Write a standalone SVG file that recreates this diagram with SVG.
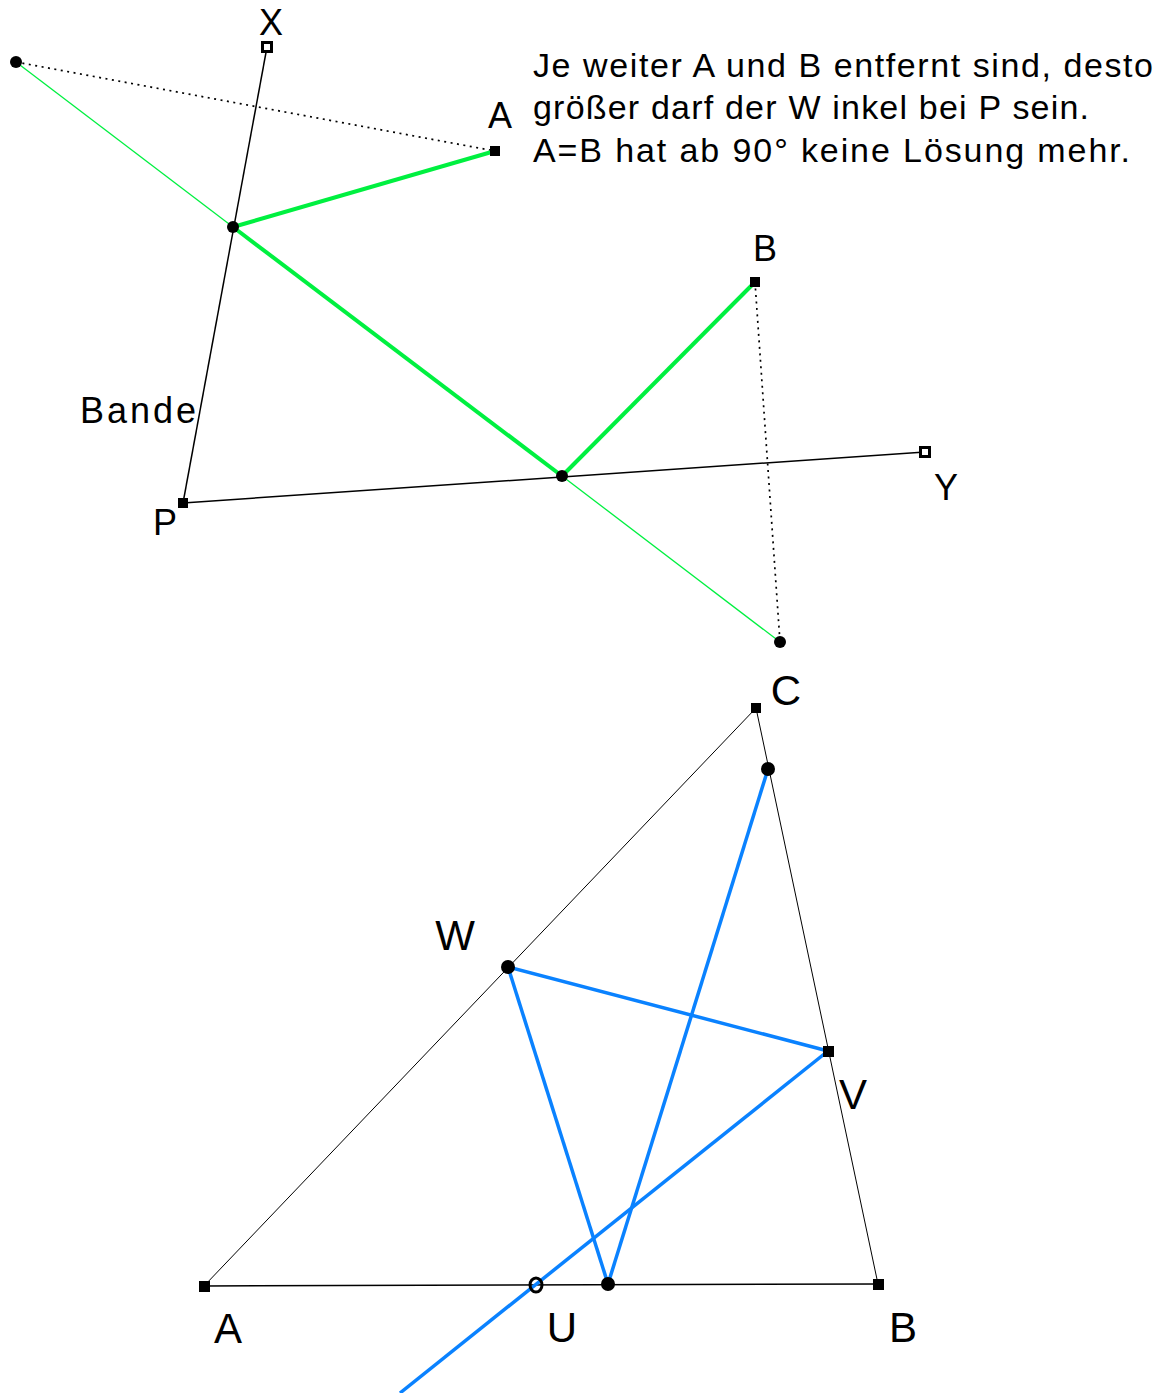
<svg xmlns="http://www.w3.org/2000/svg" width="1167" height="1393" viewBox="0 0 1167 1393">
<style>
text{font-family:"Liberation Sans",Arial,sans-serif;fill:#000}
.lbl{font-size:36px;text-anchor:middle}
.lbl2{font-size:42px;text-anchor:middle}
.note{font-family:"Liberation Sans Narrow","Liberation Sans",Arial,sans-serif;font-size:34px}
.blk{stroke:#000;stroke-width:1.5;fill:none}
.thin{stroke:#000;stroke-width:1;fill:none}
.dot{stroke:#000;stroke-width:1.7;fill:none;stroke-dasharray:2 4.5}
.gt{stroke:#00f040;stroke-width:1.3;fill:none}
.gk{stroke:#00f040;stroke-width:4;fill:none}
.bl{stroke:#0a82ff;stroke-width:3.5;fill:none}
.sq{fill:#000}
.hsq{fill:#fff;stroke:#000;stroke-width:3}
.pt{fill:#000}
</style>
<rect width="1167" height="1393" fill="#fff"/>
<g id="connectors">
<line class="dot" x1="16" y1="62" x2="495" y2="151"/>
<line class="dot" x1="755" y1="282" x2="780" y2="642"/>
<line class="blk" x1="267" y1="47" x2="183" y2="503"/>
<line class="blk" x1="183" y1="503" x2="925" y2="452"/>
<line class="gt" x1="16" y1="62" x2="233" y2="227"/>
<line class="gt" x1="562" y1="476" x2="780" y2="642"/>
<line class="gk" x1="233" y1="227" x2="495" y2="151"/>
<line class="gk" x1="233" y1="227" x2="562" y2="476"/>
<line class="gk" x1="562" y1="476" x2="755" y2="282"/>
<line class="thin" x1="204" y1="1286" x2="756" y2="708"/>
<line class="thin" x1="756" y1="708" x2="878" y2="1284"/>
<line class="blk" x1="204" y1="1286" x2="878" y2="1284"/>
<line class="bl" x1="768" y1="769" x2="608" y2="1284"/>
<line class="bl" x1="608" y1="1284" x2="508" y2="967"/>
<line class="bl" x1="508" y1="967" x2="828" y2="1051"/>
<line class="bl" x1="828" y1="1051" x2="400" y2="1393"/>
</g>
<g id="node-X"><rect class="hsq" x="262.5" y="42.5" width="9" height="9"/><text class="lbl" x="271" y="35">X</text></g>
<g id="node-A-top"><rect class="sq" x="490" y="146" width="10" height="10"/><text class="lbl" x="500" y="128">A</text></g>
<g id="node-B-top"><rect class="sq" x="750" y="277" width="10" height="10"/><text class="lbl" x="765" y="261">B</text></g>
<g id="node-Y"><rect class="hsq" x="920.5" y="447.5" width="9" height="9"/><text class="lbl" x="946" y="500">Y</text></g>
<g id="node-P"><rect class="sq" x="178" y="498" width="10" height="10"/><text class="lbl" x="165" y="535">P</text></g>
<g id="label-Bande"><text x="80" y="423" font-size="36" textLength="116" lengthAdjust="spacing">Bande</text></g>
<g id="node-A-mirror"><circle class="pt" cx="16" cy="62" r="6"/></g>
<g id="node-hit1"><circle class="pt" cx="233" cy="227" r="6"/></g>
<g id="node-hit2"><circle class="pt" cx="562" cy="476" r="6"/></g>
<g id="node-B-mirror"><circle class="pt" cx="780" cy="642" r="6"/></g>
<g id="note">
<text class="note" x="533" y="77" textLength="620" lengthAdjust="spacing">Je weiter A und B entfernt sind, desto</text>
<text class="note" x="533" y="119" textLength="556" lengthAdjust="spacing">größer darf der W inkel bei P sein.</text>
<text class="note" x="533" y="162" textLength="597" lengthAdjust="spacing">A=B hat ab 90° keine Lösung mehr.</text>
</g>
<g id="node-C"><rect class="sq" x="751" y="703" width="10" height="10"/><text class="lbl2" x="786" y="705">C</text></g>
<g id="node-D"><circle class="pt" cx="768" cy="769" r="7"/></g>
<g id="node-W"><circle class="pt" cx="508" cy="967" r="7"/><text class="lbl2" x="455" y="950">W</text></g>
<g id="node-V"><rect class="sq" x="823" y="1046" width="11" height="11"/><text class="lbl2" x="853" y="1109">V</text></g>
<g id="node-A"><rect class="sq" x="199" y="1281" width="11" height="11"/><text class="lbl2" x="228" y="1343">A</text></g>
<g id="node-B"><rect class="sq" x="873" y="1279" width="11" height="11"/><text class="lbl2" x="903" y="1342">B</text></g>
<g id="node-U"><ellipse cx="536" cy="1285" rx="6" ry="7" fill="none" stroke="#000" stroke-width="3"/><text class="lbl2" x="562" y="1342">U</text></g>
<g id="node-E"><circle class="pt" cx="608" cy="1284" r="7"/></g>
</svg>
